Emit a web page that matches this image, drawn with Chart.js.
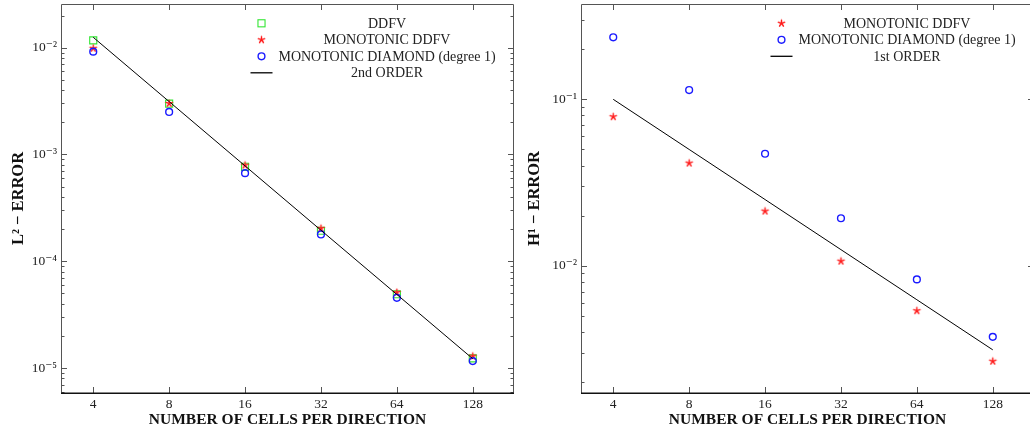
<!DOCTYPE html>
<html><head><meta charset="utf-8">
<script src="https://cdn.jsdelivr.net/npm/chart.js@4.4.0/dist/chart.umd.min.js"></script>
<style>
html,body{margin:0;padding:0;background:#fff;overflow:hidden;width:1030px;height:433px;}
#w1{position:absolute;left:0;top:0;width:515px;height:433px;}
#w2{position:absolute;left:515px;top:0;width:520px;height:433px;}
</style></head><body>
<div id="w1"><canvas id="c1" width="515" height="433"></canvas></div>
<div id="w2"><canvas id="c2" width="520" height="433"></canvas></div>
<script>
// ---- data ----
const cells = [4, 8, 16, 32, 64, 128];
const xTickLabels = ['4', '8', '16', '32', '64', '128'];
const xRange = [2.98, 186.5];

// L2 error (left panel)
const l2Ddfv         = [0.0117, 0.00299, 0.000766, 0.000193, 0.0000490, 0.0000123];
const l2MonoDdfv     = [0.00987, 0.00300, 0.000794, 0.000203, 0.0000510, 0.0000129];
const l2MonoDiamond  = [0.00918, 0.00250, 0.000668, 0.000178, 0.0000454, 0.0000116];
const l2SecondOrder  = [0.0125, 0.003125, 0.000781, 0.000195, 0.0000488, 0.0000122];
const l2Range = [5.83e-6, 0.02564];
const l2Decades = [1e-5, 1e-4, 1e-3, 1e-2];

// H1 error (right panel)
const h1MonoDdfv     = [0.0786, 0.0414, 0.0213, 0.01066, 0.00537, 0.00267];
const h1MonoDiamond  = [0.236, 0.1137, 0.0471, 0.0193, 0.00828, 0.00374];
const h1FirstOrder   = [0.1, 0.05, 0.025, 0.0125, 0.00625, 0.003125];
const h1Range = [1.72e-3, 0.374];
const h1Decades = [1e-2, 1e-1];

const labels = {
  ddfv: 'DDFV',
  monoDdfv: 'MONOTONIC DDFV',
  monoDiamond: 'MONOTONIC DIAMOND (degree 1)',
  second: '2nd ORDER',
  first: '1st ORDER',
  xTitle: 'NUMBER OF CELLS PER DIRECTION',
  l2Title: 'L² − ERROR',
  h1Title: 'H¹ − ERROR'
};

// ---- styles ----
const FONT = "'Liberation Serif', 'DejaVu Serif', serif";
const GREEN = '#33e633', RED = '#ff1a1a', BLUE = '#1a1aff';

function makeStar(color) {
  const c = document.createElement('canvas');
  c.width = 11; c.height = 11;
  const g = c.getContext('2d');
  g.strokeStyle = color; g.lineWidth = 1.4; g.lineCap = 'round';
  g.beginPath();
  for (let k = 0; k < 5; k++) {
    const a = -Math.PI / 2 + k * 2 * Math.PI / 5;
    g.moveTo(5.5, 5.5);
    g.lineTo(5.5 + 3.4 * Math.cos(a), 5.5 + 3.4 * Math.sin(a));
  }
  g.stroke();
  return c;
}
const starImg = makeStar(RED);

const SUP = {'-': '⁻', '0': '⁰', '1': '¹', '2': '²', '3': '³', '4': '⁴', '5': '⁵', '6': '⁶', '7': '⁷', '8': '⁸', '9': '⁹'};
function powLabel(v) {
  const e = String(Math.round(Math.log10(v)));
  return '10' + e.split('').map(ch => SUP[ch]).join('');
}
const pts = arr => cells.map((c, i) => ({x: c, y: arr[i]}));

function dsSquare(label, arr) {
  return {label, data: pts(arr), showLine: false, pointStyle: 'rect', pointRadius: 5, pointHoverRadius: 5,
    borderColor: GREEN, backgroundColor: 'rgba(0,0,0,0)', pointBorderWidth: 1.1, order: 4};
}
function dsStar(label, arr) {
  return {label, data: pts(arr), showLine: false, pointStyle: starImg, pointRadius: 5, pointHoverRadius: 5,
    borderColor: RED, backgroundColor: RED, order: 3};
}
function dsCircle(label, arr) {
  return {label, data: pts(arr), showLine: false, pointStyle: 'circle', pointRadius: 3.4, pointHoverRadius: 3.4,
    borderColor: BLUE, backgroundColor: 'rgba(0,0,0,0)', pointBorderWidth: 1.4, order: 2};
}
function dsLine(label, arr) {
  return {label, data: pts(arr), showLine: true, pointRadius: 0, borderColor: '#000', borderWidth: 1,
    tension: 0, fill: false, order: 1};
}

const framePlugin = {
  id: 'frame',
  afterDraw(chart) {
    const {ctx, chartArea: a, scales: {x, y}} = chart;
    ctx.save();
    ctx.strokeStyle = '#555'; ctx.lineWidth = 1;
    ctx.beginPath();
    for (const v of cells) {
      const px = Math.round(x.getPixelForValue(v)) + 0.5;
      ctx.moveTo(px, a.bottom); ctx.lineTo(px, a.bottom - 6);
      ctx.moveTo(px, a.top); ctx.lineTo(px, a.top + 6);
    }
    const eMin = Math.floor(Math.log10(y.min)), eMax = Math.ceil(Math.log10(y.max));
    for (let e = eMin; e <= eMax; e++) {
      for (let k = 1; k <= 9; k++) {
        const v = k * Math.pow(10, e);
        if (v < y.min || v > y.max) continue;
        const len = k === 1 ? 6 : 3.5;
        const py = Math.round(y.getPixelForValue(v)) + 0.5;
        ctx.moveTo(a.left, py); ctx.lineTo(a.left + len, py);
        ctx.moveTo(a.right, py); ctx.lineTo(a.right - len, py);
      }
    }
    ctx.stroke();
    // frame
    ctx.strokeStyle = '#555'; ctx.lineWidth = 1;
    ctx.beginPath();
    ctx.moveTo(a.left + 0.5, a.bottom); ctx.lineTo(a.left + 0.5, a.top + 0.5);
    ctx.lineTo(a.right - 0.5, a.top + 0.5); ctx.lineTo(a.right - 0.5, a.bottom);
    ctx.stroke();
    ctx.strokeStyle = '#111'; ctx.lineWidth = 1.6;
    ctx.beginPath();
    ctx.moveTo(a.left, a.bottom + 0.3); ctx.lineTo(a.right, a.bottom + 0.3);
    ctx.stroke();

    // legend
    const mx = a.left + 200.5, tx = a.left + 326;
    ctx.font = '14px ' + FONT; ctx.fillStyle = '#222';
    ctx.textAlign = 'center'; ctx.textBaseline = 'middle';
    chart.data.datasets.forEach((ds, i) => {
      const yy = a.top + 19.3 + i * 16.5;
      if (ds.showLine) {
        ctx.strokeStyle = '#000'; ctx.lineWidth = 1.3;
        ctx.beginPath(); ctx.moveTo(mx - 11, yy); ctx.lineTo(mx + 11, yy); ctx.stroke();
      } else if (ds.pointStyle === 'rect') {
        ctx.strokeStyle = ds.borderColor; ctx.lineWidth = ds.pointBorderWidth;
        const s = Math.SQRT1_2 * ds.pointRadius;
        ctx.strokeRect(mx - s, yy - s, 2 * s, 2 * s);
      } else if (ds.pointStyle === 'circle') {
        ctx.strokeStyle = ds.borderColor; ctx.lineWidth = ds.pointBorderWidth;
        ctx.beginPath(); ctx.arc(mx, yy, ds.pointRadius, 0, 2 * Math.PI); ctx.stroke();
      } else {
        ctx.drawImage(ds.pointStyle, mx - ds.pointStyle.width / 2, yy - ds.pointStyle.height / 2);
      }
      ctx.fillText(ds.label, tx, yy + 1);
    });
    ctx.restore();
  }
};

function makeChart(id, datasets, yRange, yDecades, yTitle, yWidth, yTitlePad) {
  return new Chart(document.getElementById(id), {
    type: 'line',
    data: {datasets},
    options: {
      responsive: false, animation: false, devicePixelRatio: 1,
      layout: {autoPadding: false, padding: {top: 4, right: 1, left: 0, bottom: 0}},
      plugins: {legend: {display: false}, tooltip: {enabled: false}},
      scales: {
        x: {
          type: 'logarithmic', min: xRange[0], max: xRange[1],
          grid: {display: false, drawTicks: false}, border: {display: false},
          afterBuildTicks: s => { s.ticks = cells.map(v => ({value: v})); },
          afterFit: s => { s.height = 40; s.paddingLeft = 0; s.paddingRight = 0; },
          ticks: {
            autoSkip: false, maxRotation: 0, padding: 3, color: '#222',
            font: {family: FONT, size: 13.5},
            callback: (v) => xTickLabels[cells.indexOf(v)]
          },
          title: {display: true, text: labels.xTitle, color: '#111',
            font: {family: FONT, size: 15.5, weight: 'bold'}, padding: {top: 0, bottom: 4}}
        },
        y: {
          type: 'logarithmic', min: yRange[0], max: yRange[1],
          grid: {display: false, drawTicks: false}, border: {display: false},
          afterBuildTicks: s => { s.ticks = yDecades.map(v => ({value: v})); },
          afterFit: s => { s.width = yWidth; s.paddingTop = 0; s.paddingBottom = 0; },
          ticks: {
            autoSkip: false, padding: 4, color: '#222',
            font: {family: FONT, size: 13.5},
            callback: (v) => powLabel(v)
          },
          title: {display: true, text: yTitle, color: '#111',
            font: {family: FONT, size: 16.5, weight: 'bold'}, padding: {top: yTitlePad, bottom: 0}}
        }
      }
    },
    plugins: [framePlugin]
  });
}

makeChart('c1', [
  dsSquare(labels.ddfv, l2Ddfv),
  dsStar(labels.monoDdfv, l2MonoDdfv),
  dsCircle(labels.monoDiamond, l2MonoDiamond),
  dsLine(labels.second, l2SecondOrder)
], l2Range, l2Decades, labels.l2Title, 61, 9);

makeChart('c2', [
  dsStar(labels.monoDdfv, h1MonoDdfv),
  dsCircle(labels.monoDiamond, h1MonoDiamond),
  dsLine(labels.first, h1FirstOrder)
], h1Range, h1Decades, labels.h1Title, 66, 10);
</script>
</body></html>
